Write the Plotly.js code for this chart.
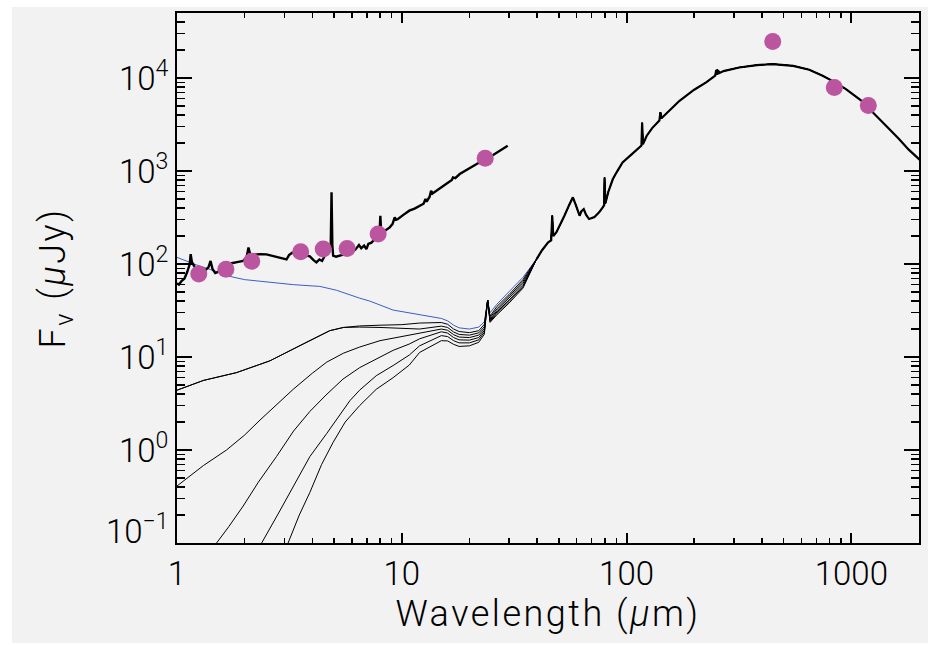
<!DOCTYPE html>
<html><head><meta charset="utf-8">
<script src="https://cdn.plot.ly/plotly-3.0.1.min.js"></script>
<style>html,body{margin:0;padding:0;background:#ffffff;} #chart{position:absolute;left:12px;top:7px;width:916px;height:636px;}
.xtitle, .ytitle { letter-spacing: 2.5px; }</style>
</head><body><div id="chart"></div>
<script>
// Observed spectrum (thick black)
const obsWave = [1.00,1.02,1.05,1.08,1.11,1.14,1.15,1.165,1.19,1.23,1.28,1.33,1.38,1.41,1.44,1.48,1.55,1.65,1.75,1.85,1.97,2.04,2.08,2.12,2.2,2.34,2.5,2.68,2.85,3.07,3.15,3.25,3.45,3.7,3.9,4.05,4.17,4.3,4.42,4.6,4.75,4.83,4.87,4.91,4.95,5.1,5.3,5.6,5.9,6.2,6.45,6.6,6.8,6.96,7.1,7.33,7.6,7.95,8.03,8.1,8.5,8.84,9.1,9.3,9.45,9.62,10.2,10.8,11.4,12.0,12.5,12.75,12.9,13.3,13.5,13.7,14.2,14.7,15.5,16.3,16.7,16.9,17.3,18.1,19.0,19.8,20.7,21.8,22.8,23.8,25.0,26.5,28.1,29.6];
const obsFlux = [62,60,66,70,82,100,128,105,96,88,84,85,92,108,88,80,84,92,102,105,108,118,151,125,127,128,127,122,118,112,125,132,128,124,121,110,104,112,108,130,138,160,590,160,123,120,123,128,133,142,160,148,158,145,165,170,186,200,331,215,230,248,270,317,300,305,340,375,395,424,445,500,470,530,614,575,610,640,700,755,800,855,840,930,1000,1060,1140,1220,1290,1340,1440,1560,1730,1870];

// Photometry (magenta dots)
const photWave = [1.25,1.65,2.15,3.55,4.47,5.71,7.85,23.5,447,840,1190];
const photFlux = [78,88,107,136,145,147,210,1370,24800,7940,5080];

// Model curves, short-wavelength parts (1 - 35 um)
const blueWave = [1.0,1.22,1.5,1.66,2.0,2.59,3.3,4.32,5.12,6.49,7.2,9.15,12.0,15,16,17,18,20,22,23.3,24.1,24.7,26.5,30,34.6];
const blueFlux = [118,98,83,75,68,63.5,60,57.5,52.3,43,40,32,28.3,26,24.5,22,20.6,20,21,24,40,30,37,50,72];

const p1Wave = [1.0,1.31,1.84,2.59,3.64,4.78,5.5,6.49,8,10,12.0,15,16,17,18,20,22,23.3,24.1,24.7,26.5,30,34.6];
const p1Flux = [4.4,5.6,6.8,9.1,13.8,19.2,20.8,21.6,22,22.3,23.2,23.5,22.5,20,18.8,18.3,19.2,22.5,41,27.5,35,47,68];

const p2Wave = [1.0,1.31,1.84,2.59,3.64,4.78,5.5,6.49,8,10,12.0,15,16,17,18,20,22,23.3,24.1,24.7,26.5,30,34.6];
const p2Flux = [4.4,5.6,6.8,9.1,13.8,19.2,20.8,21.0,20.8,20.3,20,21.5,20.8,18.6,17.5,17.2,18.2,21.2,41,26.5,33,45,65];

const c2Wave = [1.0,1.31,1.66,2.0,2.34,2.8,3.29,4.0,4.63,5.5,6.49,8,9.15,10.8,12.0,15,16,17,18,20,22,23.3,24.1,24.7,26.5,30,34.6];
const c2Flux = [0.41,0.68,1.0,1.45,2.1,3.1,4.5,6.7,8.8,11,12.8,15,16,17,17.9,20,19.4,17.4,16.4,16.2,17.2,20.2,41,25.5,31.5,43,62];

const c3Wave = [1.45,1.5,1.7,1.97,2.3,2.77,3.3,3.9,4.6,5.48,6.5,7.7,9.15,10.8,12.0,15,16,17,18,20,22,23.3,24.1,24.7,26.5,30,34.6];
const c3Flux = [0.085,0.1,0.15,0.25,0.45,0.85,1.6,2.6,3.9,5.8,7.7,9.5,11.8,13.8,15.7,18.7,18.1,16.2,15.3,15.2,16.2,19.3,41,24.8,30.5,41,59];

const c4Wave = [2.3,2.38,2.8,3.29,3.9,4.63,5.12,5.88,6.49,7.7,9.15,10.8,12.0,15,16,17,18,20,22,23.3,24.1,24.7,26.5,30,34.6];
const c4Flux = [0.085,0.1,0.2,0.41,0.85,1.5,2.1,3.4,4.4,6.3,8.1,10.5,13.2,17,16.6,15,14.2,14.2,15.3,18.5,41,24.2,29.5,39.5,57];

const c5Wave = [3.0,3.12,3.5,3.9,4.4,4.95,5.6,6.49,7.7,9.15,10.8,12.0,15,16,17,18,20,22,23.3,24.1,24.7,26.5,30,34.6];
const c5Flux = [0.085,0.1,0.2,0.35,0.7,1.21,2.0,3.0,4.5,6.0,8.2,11.2,15,14.9,13.7,13.0,13.2,14.4,17.6,41,23.6,28.5,38,55];

// Shared long-wavelength model tail
const tailWave = [39.8,42,44.8,46.2,46.7,47.2,48.7,51,52.9,55.5,57.7,59.5,61.8,63,64.5,66,68.1,72,75.5,78.5,79.5,79.8,80.5,83,86.9,91,96,105,114,116.5,117.3,118.3,123,130,140,141.5,143,155,172,200,226,248,250.5,252,253.5,255,256.5,258,270,317,380,447,551,650,745,846,946,1100,1240,1430,1630,1800,2000,2100];
const tailFlux = [113,140,171,180,331,200,219,270,331,430,522,430,331,370,390,340,305,320,360,410,430,855,450,600,820,1000,1240,1500,1800,1880,3300,1950,2400,2900,3500,4300,3700,4500,5700,7500,9000,10600,12200,10900,12300,11100,12000,11300,11900,13000,13800,14150,13550,12300,10600,9000,7620,5800,4280,3050,2210,1700,1345,1180];

const xTickVals = [1,10,100,1000];
const xTickText = ['1','10','100','1000'];
const yTickVals = [0.1,1,10,100,1000,10000];
const yTickText = ['','10<sup>0</sup>','10<sup>1</sup>','10<sup>2</sup>','10<sup>3</sup>','10<sup>4</sup>'];
const yBottomLabel = '10<sup>−1</sup>';

const minorX = [], minorY = [];
for (let d = 1; d <= 1000; d *= 10) for (let k = 2; k <= 9; k++) minorX.push(k*d);
for (let d = 0.01; d <= 10000; d *= 10) for (let k = 2; k <= 9; k++) minorY.push(+(k*d).toPrecision(3));

const BLUE = '#3d5ec2';
const MAG = '#bb55a0';
function model(w, f, color) {
  return {x: w.concat(tailWave), y: f.concat(tailFlux), type: 'scatter', mode: 'lines',
          line: {color: color, width: 1}, hoverinfo: 'skip'};
}
const traces = [
  model(blueWave, blueFlux, BLUE),
  model(p1Wave, p1Flux, '#000'),
  model(p2Wave, p2Flux, '#000'),
  model(c2Wave, c2Flux, '#000'),
  model(c3Wave, c3Flux, '#000'),
  model(c4Wave, c4Flux, '#000'),
  model(c5Wave, c5Flux, '#000'),
  {x: tailWave, y: tailFlux, type: 'scatter', mode: 'lines', line: {color: '#000', width: 2.2}},
  {x: obsWave, y: obsFlux, type: 'scatter', mode: 'lines', line: {color: '#000', width: 2.4}},
  {x: photWave, y: photFlux, type: 'scatter', mode: 'markers', marker: {color: MAG, size: 17, line: {width: 0}}},
  {x: [], y: [], xaxis: 'x2', yaxis: 'y2', type: 'scatter', mode: 'markers'}
];

const FONT = {family: 'Roboto, "Liberation Sans", sans-serif', size: 33, color: '#000', weight: 300};
const TFONT = {family: 'Roboto, "Liberation Sans", sans-serif', size: 36, color: '#000', weight: 300};
const xRange = [0, Math.log10(2000)];
const yRange = [-1, 4.7];
const axisCommon = {
  type: 'log', showline: true, linecolor: '#000', linewidth: 2, mirror: 'ticks',
  ticks: 'inside', tickcolor: '#000', tickwidth: 2, showgrid: false, zeroline: false,
  tickmode: 'array', tickfont: FONT
};
const minorCommon = {
  type: 'log', showline: false, mirror: 'ticks', ticks: 'inside', tickcolor: '#000',
  tickwidth: 1.5, showgrid: false, zeroline: false, showticklabels: false, tickmode: 'array'
};
const layout = {
  paper_bgcolor: '#f2f2f2', plot_bgcolor: '#f2f2f2',
  margin: {l: 165, r: 9, t: 6, b: 100},
  showlegend: false,
  xaxis: Object.assign({}, axisCommon, {
    range: xRange, tickvals: xTickVals, ticktext: xTickText, ticklen: 10,
    title: {text: 'Wavelength (<i>μ</i>m)', font: TFONT, standoff: 2}
  }),
  yaxis: Object.assign({}, axisCommon, {
    range: yRange, tickvals: yTickVals, ticktext: yTickText, ticklen: 15,
    title: {text: 'F<sub>ν</sub> (<i>μ</i>Jy)', font: TFONT, standoff: 42}
  }),
  xaxis2: Object.assign({}, minorCommon, {overlaying: 'x', anchor: 'y', side: 'bottom', range: xRange, tickvals: minorX, ticklen: 5}),
  yaxis2: Object.assign({}, minorCommon, {overlaying: 'y', anchor: 'x', side: 'left', range: yRange, tickvals: minorY, ticklen: 8}),
  annotations: [{
    text: yBottomLabel, xref: 'paper', yref: 'y', x: 0, y: -1, xanchor: 'right', yanchor: 'middle',
    xshift: -6, yshift: 14, showarrow: false, font: FONT
  }]
};
Plotly.newPlot('chart', traces, layout, {displayModeBar: false, staticPlot: true});
</script></body></html>
